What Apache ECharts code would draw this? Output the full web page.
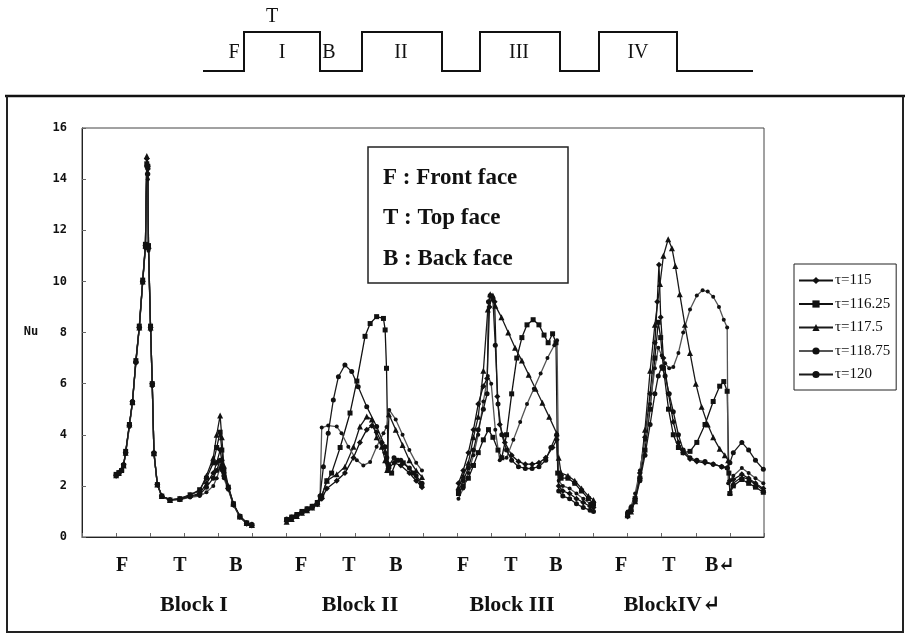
<!DOCTYPE html>
<html><head><meta charset="utf-8">
<script src="https://cdn.jsdelivr.net/npm/echarts@6/dist/echarts.min.js"></script>
<style>html,body{margin:0;padding:0;background:#fff}#c{width:905px;height:634px}</style>
</head><body><div id="c"></div>
<script>
// ---- data (x = position along the block surfaces, one unit per tick; Nu values) ----
const seriesNames = ['τ=115', 'τ=116.25', 'τ=117.5', 'τ=118.75', 'τ=120'];
const yTickLabels = [0, 2, 4, 6, 8, 10, 12, 14, 16];
const faceLabels = ['F', 'T', 'B'];
const blockLabels = ['Block I', 'Block II', 'Block III', 'BlockIV↵'];
const legendFaces = ['F : Front face', 'T : Top face', 'B : Back face'];
const schematicLabels = ['F', 'I', 'B', 'II', 'III', 'IV', 'T'];

const nu115 = [
 [1.00,2.40],[1.08,2.48],[1.16,2.62],[1.22,2.85],[1.28,3.3],[1.39,4.35],[1.48,5.3],[1.58,6.85],[1.68,8.2],[1.78,10.0],[1.86,11.4],[1.90,14.8],[1.93,14.4],[1.95,11.3],[2.01,8.2],[2.06,6.0],[2.11,3.3],[2.21,2.05],[2.34,1.6],[2.58,1.45],[2.87,1.48],[3.17,1.6],[3.45,1.7],[3.65,2.1],[3.85,2.5],[3.95,2.9],[4.05,3.4],[4.1,3.0],[4.16,2.5],[4.29,1.9],[4.44,1.25],[4.63,0.78],[4.83,0.52],[4.98,0.45],
 null,
 [6.0,0.62],[6.15,0.72],[6.3,0.84],[6.45,0.95],[6.6,1.05],[6.75,1.15],[6.9,1.28],[7.03,1.5],[7.18,1.9],[7.47,2.2],[7.71,2.5],[7.96,3.1],[8.15,3.7],[8.35,4.2],[8.5,4.35],[8.64,4.1],[8.79,3.7],[8.89,3.3],[8.95,2.9],[9.0,2.7],[9.15,2.9],[9.35,2.8],[9.6,2.5],[9.8,2.2],[9.97,1.95],
 null,
 [11.04,2.1],[11.18,2.6],[11.33,3.3],[11.48,4.2],[11.62,5.2],[11.77,5.9],[11.88,6.2],[11.95,9.0],[12.02,9.4],[12.1,9.2],[12.18,5.5],[12.25,4.4],[12.4,3.7],[12.6,3.2],[12.8,2.95],[13.0,2.85],[13.2,2.85],[13.4,2.9],[13.6,3.1],[13.8,3.5],[13.92,3.8],[13.98,2.0],[14.1,1.8],[14.3,1.7],[14.5,1.5],[14.7,1.35],[14.9,1.2],[15.0,1.15],
 null,
 [16.0,0.8],[16.1,1.0],[16.22,1.5],[16.36,2.5],[16.51,3.9],[16.66,5.6],[16.8,7.6],[16.87,9.2],[16.92,10.65],[16.97,8.6],[17.05,7.0],[17.2,5.6],[17.34,4.5],[17.49,3.7],[17.63,3.3],[17.83,3.05],[18.03,2.95],[18.27,2.9],[18.51,2.85],[18.76,2.75],[18.92,2.7],[19.0,2.2],[19.1,2.25],[19.35,2.45],[19.55,2.3],[19.75,2.1],[19.98,1.9]
];
const nu11625 = [
 [1.00,2.45],[1.08,2.52],[1.16,2.6],[1.22,2.8],[1.28,3.35],[1.39,4.4],[1.48,5.25],[1.58,6.9],[1.68,8.25],[1.78,10.05],[1.86,11.45],[1.90,14.6],[1.93,14.5],[1.95,11.4],[2.01,8.25],[2.06,6.0],[2.11,3.25],[2.21,2.05],[2.34,1.6],[2.58,1.45],[2.87,1.5],[3.17,1.65],[3.45,1.85],[3.65,2.3],[3.85,2.9],[3.95,3.5],[4.05,4.1],[4.1,3.4],[4.16,2.6],[4.29,1.95],[4.44,1.3],[4.63,0.8],[4.83,0.55],[4.98,0.45],
 null,
 [6.0,0.68],[6.15,0.78],[6.3,0.88],[6.45,1.0],[6.6,1.1],[6.75,1.2],[6.9,1.35],[7.03,1.6],[7.18,2.2],[7.32,2.5],[7.57,3.5],[7.86,4.85],[8.06,6.1],[8.3,7.85],[8.45,8.35],[8.64,8.62],[8.84,8.55],[8.89,8.1],[8.93,6.6],[8.98,2.6],[9.08,2.5],[9.23,3.0],[9.42,2.9],[9.72,2.5],[9.96,2.03],
 null,
 [11.04,1.7],[11.18,2.0],[11.33,2.3],[11.48,2.8],[11.62,3.3],[11.77,3.8],[11.92,4.2],[12.05,3.9],[12.2,3.4],[12.31,3.1],[12.45,4.0],[12.6,5.6],[12.75,7.0],[12.9,7.8],[13.05,8.3],[13.23,8.5],[13.4,8.3],[13.55,7.9],[13.67,7.6],[13.8,7.95],[13.9,7.6],[13.95,2.5],[14.05,2.3],[14.25,2.3],[14.45,2.1],[14.65,1.8],[14.85,1.5],[15.0,1.3],
 null,
 [16.0,0.9],[16.1,1.1],[16.22,1.5],[16.36,2.3],[16.51,3.4],[16.66,5.0],[16.8,7.0],[16.9,8.4],[16.97,7.8],[17.05,6.6],[17.2,5.0],[17.34,4.0],[17.49,3.5],[17.63,3.3],[17.83,3.35],[18.03,3.7],[18.27,4.4],[18.51,5.3],[18.7,5.9],[18.82,6.08],[18.92,5.7],[18.97,2.5],[19.0,1.7],[19.1,2.0],[19.35,2.25],[19.55,2.1],[19.75,1.95],[19.98,1.75]
];
const nu1175 = [
 [1.00,2.42],[1.08,2.5],[1.16,2.65],[1.22,2.8],[1.28,3.3],[1.39,4.4],[1.48,5.3],[1.58,6.9],[1.68,8.2],[1.78,10.0],[1.86,11.4],[1.90,14.9],[1.93,14.6],[1.95,11.4],[2.01,8.2],[2.06,6.0],[2.11,3.3],[2.21,2.05],[2.34,1.6],[2.58,1.45],[2.87,1.5],[3.17,1.65],[3.45,1.8],[3.65,2.4],[3.85,3.1],[3.95,4.0],[4.05,4.75],[4.1,3.9],[4.16,2.8],[4.29,2.0],[4.44,1.3],[4.63,0.8],[4.83,0.55],[4.98,0.47],
 null,
 [6.0,0.6],[6.15,0.7],[6.3,0.82],[6.45,0.95],[6.6,1.05],[6.75,1.15],[6.9,1.3],[7.03,1.6],[7.18,2.2],[7.47,2.45],[7.71,2.75],[7.96,3.53],[8.15,4.32],[8.35,4.71],[8.5,4.6],[8.64,3.9],[8.79,3.53],[8.89,3.0],[8.95,2.62],[9.0,4.8],[9.2,4.2],[9.4,3.6],[9.6,3.0],[9.8,2.6],[9.97,2.35],
 null,
 [11.04,1.95],[11.18,2.4],[11.33,2.9],[11.48,3.9],[11.62,4.7],[11.77,6.5],[11.9,8.9],[11.97,9.5],[12.05,9.45],[12.12,9.05],[12.3,8.6],[12.5,8.0],[12.7,7.4],[12.9,6.9],[13.1,6.35],[13.3,5.8],[13.5,5.25],[13.7,4.7],[13.92,4.06],[13.98,3.1],[14.05,2.5],[14.25,2.4],[14.45,2.2],[14.65,1.9],[14.85,1.6],[15.0,1.45],
 null,
 [16.0,0.85],[16.1,1.0],[16.22,1.4],[16.36,2.4],[16.51,4.2],[16.66,6.5],[16.8,8.3],[16.95,9.9],[17.05,11.0],[17.19,11.65],[17.3,11.3],[17.4,10.6],[17.53,9.5],[17.68,8.3],[17.83,7.2],[18.0,6.0],[18.17,5.1],[18.35,4.4],[18.51,3.9],[18.7,3.45],[18.85,3.2],[18.95,3.0],[19.0,1.75],[19.1,2.1],[19.35,2.35],[19.55,2.25],[19.75,2.05],[19.98,1.85]
];
const nu11875 = [
 [1.00,2.38],[1.08,2.46],[1.16,2.6],[1.22,2.8],[1.28,3.25],[1.39,4.3],[1.48,5.25],[1.58,6.8],[1.68,8.15],[1.78,9.95],[1.86,11.3],[1.90,14.2],[1.93,14.0],[1.95,11.2],[2.01,8.1],[2.06,5.9],[2.11,3.3],[2.21,2.05],[2.34,1.58],[2.58,1.43],[2.87,1.46],[3.17,1.55],[3.45,1.6],[3.65,1.75],[3.85,2.0],[3.95,2.3],[4.05,2.7],[4.1,2.6],[4.16,2.3],[4.29,1.85],[4.44,1.25],[4.63,0.8],[4.83,0.55],[4.98,0.48],
 null,
 [6.0,0.72],[6.15,0.8],[6.3,0.9],[6.45,1.02],[6.6,1.12],[6.75,1.22],[6.9,1.38],[6.98,1.5],[7.03,4.28],[7.22,4.36],[7.47,4.32],[7.61,4.06],[7.81,3.53],[8.06,3.0],[8.25,2.8],[8.45,2.93],[8.64,3.53],[8.84,4.06],[8.93,4.3],[9.01,4.97],[9.2,4.6],[9.4,4.0],[9.6,3.4],[9.8,2.9],[9.97,2.6],
 null,
 [11.04,1.5],[11.18,1.9],[11.33,2.5],[11.48,3.2],[11.62,4.0],[11.77,5.3],[11.9,6.3],[12.0,6.0],[12.12,4.2],[12.25,3.0],[12.45,3.1],[12.65,3.8],[12.85,4.5],[13.05,5.2],[13.25,5.8],[13.45,6.4],[13.65,7.0],[13.85,7.5],[13.93,7.7],[13.98,2.2],[14.1,2.0],[14.3,1.9],[14.5,1.7],[14.7,1.5],[14.9,1.3],[15.0,1.2],
 null,
 [16.0,1.0],[16.1,1.2],[16.22,1.7],[16.36,2.6],[16.51,3.8],[16.66,5.2],[16.8,6.6],[16.9,7.4],[17.0,7.1],[17.1,6.8],[17.22,6.6],[17.34,6.65],[17.49,7.2],[17.63,8.0],[17.83,8.9],[18.03,9.45],[18.2,9.65],[18.35,9.6],[18.51,9.4],[18.68,9.0],[18.82,8.5],[18.92,8.2],[18.95,2.1],[19.1,2.4],[19.35,2.7],[19.55,2.5],[19.75,2.3],[19.98,2.1]
];
const nu120 = [
 [1.00,2.44],[1.08,2.5],[1.16,2.6],[1.22,2.82],[1.28,3.3],[1.39,4.4],[1.48,5.3],[1.58,6.85],[1.68,8.2],[1.78,10.0],[1.86,11.35],[1.90,14.5],[1.93,14.2],[1.95,11.3],[2.01,8.2],[2.06,6.0],[2.11,3.3],[2.21,2.05],[2.34,1.6],[2.58,1.45],[2.87,1.47],[3.17,1.58],[3.45,1.65],[3.65,1.95],[3.85,2.3],[3.95,2.6],[4.05,3.0],[4.1,2.8],[4.16,2.4],[4.29,1.9],[4.44,1.3],[4.63,0.82],[4.83,0.56],[4.98,0.5],
 null,
 [6.0,0.66],[6.15,0.76],[6.3,0.86],[6.45,0.98],[6.6,1.08],[6.75,1.18],[6.9,1.32],[6.98,1.6],[7.08,2.75],[7.22,4.06],[7.37,5.36],[7.52,6.27],[7.71,6.73],[7.91,6.47],[8.1,5.88],[8.35,5.1],[8.64,4.32],[8.89,3.53],[8.94,3.1],[9.0,2.8],[9.15,3.1],[9.35,3.0],[9.6,2.7],[9.8,2.4],[9.97,2.1],
 null,
 [11.04,1.8],[11.18,2.2],[11.33,2.7],[11.48,3.4],[11.62,4.2],[11.77,5.0],[11.88,5.6],[11.92,9.2],[11.97,9.45],[12.05,9.3],[12.12,7.5],[12.2,5.2],[12.31,4.0],[12.45,3.4],[12.6,3.0],[12.8,2.75],[13.0,2.68],[13.2,2.68],[13.4,2.75],[13.6,3.0],[13.75,3.5],[13.92,4.0],[13.98,1.8],[14.1,1.6],[14.3,1.5],[14.5,1.3],[14.7,1.15],[14.9,1.05],[15.0,1.0],
 null,
 [16.0,0.9],[16.1,1.05],[16.22,1.4],[16.36,2.2],[16.51,3.2],[16.66,4.4],[16.8,5.6],[16.9,6.3],[17.0,6.66],[17.1,6.3],[17.22,5.6],[17.34,4.9],[17.49,4.0],[17.63,3.4],[17.83,3.1],[18.03,3.0],[18.27,2.95],[18.51,2.85],[18.76,2.75],[18.92,2.7],[19.0,2.9],[19.1,3.3],[19.35,3.7],[19.55,3.4],[19.75,3.0],[19.98,2.65]
];

const seriesData = [nu115, nu11625, nu1175, nu11875, nu120];
const symbols = ['diamond', 'rect', 'triangle', 'circle', 'circle'];
const symbolSizes = [6, 5, 6, 4, 5];
const lineColors = ['#111', '#111', '#1a1a1a', '#555', '#1a1a1a'];

function splitBlocks(arr) {
  const out = []; let cur = [];
  arr.forEach(p => { if (p === null) { out.push(cur); cur = []; } else cur.push(p); });
  if (cur.length) out.push(cur);
  return out;
}

const series = [];
seriesData.forEach((arr, i) => {
  splitBlocks(arr).forEach(seg => {
    series.push({
      name: seriesNames[i], type: 'line', data: seg,
      symbol: symbols[i], symbolSize: symbolSizes[i], showSymbol: true,
      lineStyle: { width: 1.3, color: lineColors[i] },
      itemStyle: { color: '#111' },
      animation: false, silent: true
    });
  });
});

const serif = 'Liberation Serif, DejaVu Serif, serif';
const gridL = 82, gridR = 764, gridT = 128, gridB = 537;
const graphics = [];
// outer frame
graphics.push({ type: 'polyline', shape: { points: [[5, 96], [905, 96]] }, style: { stroke: '#111', lineWidth: 2.5, fill: null } });
graphics.push({ type: 'polyline', shape: { points: [[7, 96], [7, 632], [903, 632], [903, 96]] }, style: { stroke: '#222', lineWidth: 2, fill: null } });
// schematic of the blocks
graphics.push({ type: 'polyline', shape: { points: [[203,71],[244,71],[244,32],[320,32],[320,71],[362,71],[362,32],[442,32],[442,71],[480,71],[480,32],[560,32],[560,71],[599,71],[599,32],[677,32],[677,71],[753,71]] }, style: { stroke: '#111', lineWidth: 2, fill: null } });
const schemPos = [[234,53],[282,53],[329,53],[401,53],[519,53],[638,53],[272,17]];
schematicLabels.forEach((t, i) => graphics.push({ type: 'text', x: schemPos[i][0], y: schemPos[i][1], style: { text: t, font: '20px ' + serif, fill: '#111', textAlign: 'center', textVerticalAlign: 'middle' } }));
// face legend box
graphics.push({ type: 'rect', shape: { x: 368, y: 147, width: 200, height: 136 }, style: { stroke: '#222', lineWidth: 1.5, fill: '#fff' }, z: 10 });
legendFaces.forEach((t, i) => graphics.push({ type: 'text', x: 383, y: 178 + i * 40.5, z: 11, style: { text: t, font: 'bold 23px ' + serif, fill: '#111', textVerticalAlign: 'middle' } }));
// Nu axis title
graphics.push({ type: 'text', x: 31, y: 332, style: { text: 'Nu', font: 'bold 12px DejaVu Sans Mono, monospace', fill: '#111', textAlign: 'center', textVerticalAlign: 'middle' } });
// face labels under axis
const faceX = [[122,180,236],[301,349,396],[463,511,556],[621,669,705]];
faceX.forEach((row, b) => row.forEach((x, j) => graphics.push({ type: 'text', x: x, y: 566, style: { text: faceLabels[j] + (b === 3 && j === 2 ? '↵' : ''), font: 'bold 20px ' + serif, fill: '#111', textAlign: (b === 3 && j === 2) ? 'left' : 'center', textVerticalAlign: 'middle' } })));
const blockX = [194, 360, 512, 672];
blockLabels.forEach((t, i) => graphics.push({ type: 'text', x: blockX[i], y: 605, style: { text: t, font: 'bold 22px ' + serif, fill: '#111', textAlign: 'center', textVerticalAlign: 'middle' } }));

const chart = echarts.init(document.getElementById('c'), null, { renderer: 'canvas' });
chart.setOption({
  animation: false,
  backgroundColor: '#fff',
  grid: { left: gridL, right: 905 - gridR, top: gridT, bottom: 634 - gridB, show: true, borderColor: '#444', borderWidth: 1, containLabel: false },
  xAxis: { type: 'value', min: 0, max: 20, interval: 1,
    axisLine: { show: true, lineStyle: { color: '#222', width: 1 } },
    axisTick: { show: true, inside: true, length: 4, lineStyle: { color: '#666' } },
    axisLabel: { show: false }, splitLine: { show: false } },
  yAxis: { type: 'value', min: 0, max: 16, interval: 2,
    axisLine: { show: true, lineStyle: { color: '#222', width: 1 } },
    axisTick: { show: true, inside: true, length: 4, lineStyle: { color: '#666' } },
    axisLabel: { show: true, margin: 15, fontFamily: 'DejaVu Sans Mono, monospace', fontWeight: 'bold', fontSize: 12, color: '#111',
      formatter: v => String(yTickLabels[Math.round(v / 2)]) },
    splitLine: { show: false } },
  legend: { show: true, orient: 'vertical', left: 794, top: 264, data: seriesNames,
    padding: [9, 6, 8, 4], itemGap: 8.5, itemWidth: 34, itemHeight: 9,
    borderColor: '#222', borderWidth: 1, backgroundColor: '#fff',
    textStyle: { fontFamily: serif, fontSize: 15, color: '#111', padding: [0, 0, 0, -3] },
    selectedMode: false },
  graphic: graphics,
  series: series
});
</script>
</body></html>
